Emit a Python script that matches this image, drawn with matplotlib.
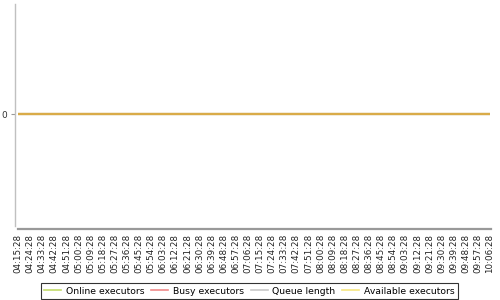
import matplotlib
matplotlib.use("Agg")
import matplotlib.pyplot as plt
from matplotlib.lines import Line2D

times = ["04:15:28", "04:24:28", "04:33:28", "04:42:28", "04:51:28", "05:00:28",
         "05:09:28", "05:18:28", "05:27:28", "05:36:28", "05:45:28", "05:54:28",
         "06:03:28", "06:12:28", "06:21:28", "06:30:28", "06:39:28", "06:48:28",
         "06:57:28", "07:06:28", "07:15:28", "07:24:28", "07:33:28", "07:42:28",
         "07:51:28", "08:00:28", "08:09:28", "08:18:28", "08:27:28", "08:36:28",
         "08:45:28", "08:54:28", "09:03:28", "09:12:28", "09:21:28", "09:30:28",
         "09:39:28", "09:48:28", "09:57:28", "10:06:28"]
online_executors = [0] * 40
busy_executors = [0] * 40
queue_length = [0] * 40
available_executors = [0] * 40

series_names = ["Online executors", "Busy executors", "Queue length", "Available executors"]
legend_colors = ["#c2dc6a", "#f08a8a", "#c8c8c8", "#f6e680"]

fig = plt.figure(figsize=(5, 3), dpi=100)
W, H = 500, 300
left, right, top, bottom = 14.5, 491, 4, 228.5
ax = fig.add_axes([left / W, 1 - bottom / H, (right - left) / W, (bottom - top) / H])

x = list(range(len(times)))
n = len(times) - 1
scale = (490 - 18) / n
ax.set_xlim(-(18 - left) / scale, n + (right - 490) / scale)
ax.set_ylim(-1.02, 0.98)

series = [online_executors, busy_executors, queue_length, available_executors]
for vals, c in zip(series, legend_colors):
    ax.plot(x, vals, color=c, lw=1.5, solid_capstyle="butt")
# visible overlap colour of the coincident lines
ax.plot(x, available_executors, color="#d9ab48", lw=1.6, solid_capstyle="butt")

ax.set_xticks(x)
ax.set_xticklabels(times, rotation=90, fontsize=6.3, color="#222222")
ax.set_yticks([0])
ax.set_yticklabels(["0"], fontsize=6.5, color="#333333")
ax.tick_params(axis="x", length=0, pad=4)
ax.tick_params(axis="y", length=3, width=0.8, color="#999999", pad=2)

for s in ["top", "right"]:
    ax.spines[s].set_visible(False)
ax.spines["left"].set_color("#c0c0c0")
ax.spines["left"].set_linewidth(1)
ax.spines["left"].set_bounds(-1.0, 0.98)
ax.spines["bottom"].set_color("#999999")
ax.spines["bottom"].set_linewidth(1.6)
ax.spines["bottom"].set_bounds(x[0], x[-1] + 0.08)

handles = [Line2D([], [], color=c, lw=1.2) for c in legend_colors]
leg = fig.legend(handles, series_names, loc="lower center",
                 bbox_to_anchor=(0.499, 1.0 / H), ncol=4, fontsize=6.7,
                 frameon=True, fancybox=False, borderaxespad=0,
                 handlelength=1.8, handletextpad=0.5, columnspacing=0.75,
                 borderpad=0.35)
leg.get_frame().set_edgecolor("black")
leg.get_frame().set_linewidth(0.8)

fig.savefig("out.png", dpi=100)
